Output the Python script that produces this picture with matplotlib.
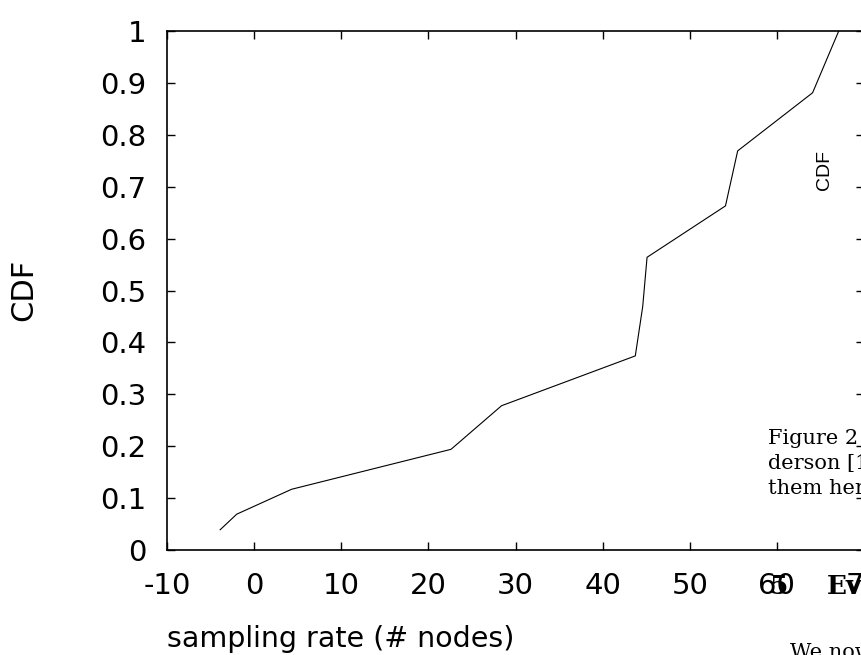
import matplotlib
matplotlib.use('Agg')
import matplotlib.pyplot as plt

# CDF of sampling rate
sampling_rate = [-3.9, -2.0, 4.3, 22.6, 28.4, 43.75, 44.6, 45.1, 54.1, 55.5, 64.1, 67.1]
cdf = [0.039, 0.069, 0.117, 0.194, 0.278, 0.374, 0.469, 0.564, 0.663, 0.769, 0.881, 1.0]

x_ticks = [-10, 0, 10, 20, 30, 40, 50, 60, 70]
y_ticks = [0, 0.1, 0.2, 0.3, 0.4, 0.5, 0.6, 0.7, 0.8, 0.9, 1]
y_tick_labels = ['0', '0.1', '0.2', '0.3', '0.4', '0.5', '0.6', '0.7', '0.8', '0.9', '1']

W, H = 862, 655
plt.rcParams['font.family'] = ['DejaVu Sans']

fig = plt.figure(figsize=(W / 100, H / 100), dpi=100)
ax = fig.add_axes([167 / W, 1 - 550 / H, (864 - 167) / W, (550 - 31) / H])

ax.plot(sampling_rate, cdf, color='black', linewidth=0.8)
ax.set_xlim(-10, 70)
ax.set_ylim(0, 1)
ax.set_xticks(x_ticks)
ax.set_xticklabels([str(t) for t in x_ticks])
ax.set_yticks(y_ticks)
ax.set_yticklabels(y_tick_labels)
ax.tick_params(direction='in', length=6, width=1, top=True, right=True,
               labelsize=21, colors='black')
ax.tick_params(axis='y', pad=15)
ax.tick_params(axis='x', pad=16)
for s in ax.spines.values():
    s.set_linewidth(1.2)

# axis labels (placed like the gnuplot original)
fig.text(341 / W, 1 - 639 / H, 'sampling rate (# nodes)', fontsize=20.5,
         ha='center', va='center')
fig.text(24 / W, 1 - 290 / H, 'CDF', fontsize=22, rotation=90,
         ha='center', va='center')

# bits of the neighbouring figure and page text
fig.text(825 / W, 1 - 170 / H, 'CDF', fontsize=14, rotation=90,
         family=['Liberation Sans'], ha='center', va='center')
serif = ['DejaVu Serif']
fig.text(768 / W, 1 - 444 / H, 'Figure 2', fontsize=15, family=serif)
fig.text(768 / W, 1 - 469 / H, 'derson [1', fontsize=15, family=serif)
fig.text(768 / W, 1 - 494 / H, 'them her', fontsize=15, family=serif)
fig.text(770 / W, 1 - 586 / H, '5', fontsize=19, family=serif,
         fontweight='bold', va='center')
fig.text(827 / W, 1 - 586 / H, 'Evaluation', fontsize=19, family=serif,
         fontweight='bold', va='center')
fig.text(790 / W, 1 - 643 / H, 'We now', fontsize=15, family=serif, va='top')

fig.savefig('out.png', dpi=100)
